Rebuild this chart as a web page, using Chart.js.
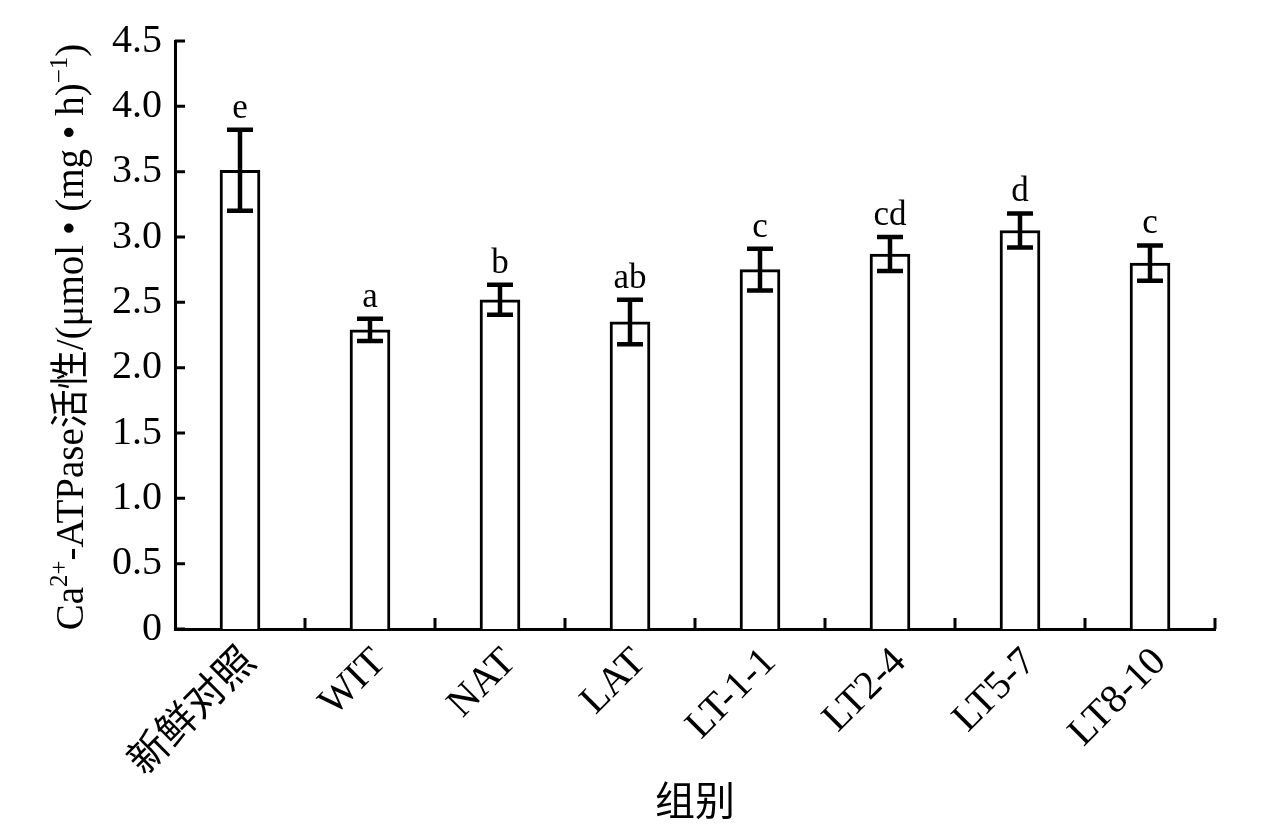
<!DOCTYPE html>
<html>
<head>
<meta charset="utf-8">
<script src="https://cdn.jsdelivr.net/npm/chart.js@4.4.1/dist/chart.umd.min.js"></script>
<style>
  html, body { margin: 0; padding: 0; background: #fff; }
  #wrap { width: 1276px; height: 831px; }
</style>
</head>
<body>
<div id="wrap"><canvas id="chart" width="1276" height="831"></canvas></div>
<script>
// values
var groups = ['新鲜对照', 'WIT', 'NAT', 'LAT', 'LT-1-1', 'LT2-4', 'LT5-7', 'LT8-10'];
var means = [3.51, 2.29, 2.52, 2.35, 2.75, 2.87, 3.05, 2.80];
var errors = [0.31, 0.085, 0.115, 0.17, 0.16, 0.13, 0.13, 0.135];
var letters = ['e', 'a', 'b', 'ab', 'c', 'cd', 'd', 'c'];
var yTickLabels = ['0', '0.5', '1.0', '1.5', '2.0', '2.5', '3.0', '3.5', '4.0', '4.5'];
// [text, isSuperscript]
var yTitleParts = [['Ca', 0], ['2+', 1], ['-ATPase活性/(μmol • (mg • h)', 0], ['−1', 1], [')', 0]];
var xTitle = '组别';

var FONT = '"Liberation Serif", "Times New Roman", "Noto Sans CJK SC", serif';

// error bars, letters, inward ticks and the y title with superscripts
var extras = {
  id: 'extras',
  afterDatasetsDraw: function (chart) {
    var ctx = chart.ctx;
    var xs = chart.scales.x, ys = chart.scales.y;
    var area = chart.chartArea;
    var meta = chart.getDatasetMeta(0);
    ctx.save();
    ctx.strokeStyle = '#000';
    ctx.fillStyle = '#000';
    ctx.lineWidth = 4.5;
    meta.data.forEach(function (bar, i) {
      var x = bar.x;
      var yT = ys.getPixelForValue(means[i] + errors[i]);
      var yB = ys.getPixelForValue(means[i] - errors[i]);
      ctx.beginPath();
      ctx.moveTo(x, yT); ctx.lineTo(x, yB);
      ctx.moveTo(x - 13, yT); ctx.lineTo(x + 13, yT);
      ctx.moveTo(x - 13, yB); ctx.lineTo(x + 13, yB);
      ctx.stroke();
      ctx.font = '35px ' + FONT;
      ctx.textAlign = 'center';
      ctx.textBaseline = 'alphabetic';
      ctx.fillText(letters[i], x, yT - 12);
    });

    // inward tick marks
    ctx.lineWidth = 3;
    ctx.beginPath();
    ys.ticks.forEach(function (t, i) {
      var py = ys.getPixelForTick(i);
      ctx.moveTo(area.left, py); ctx.lineTo(area.left + 10, py);
    });
    for (var k = 1; k <= groups.length; k++) {
      var px = xs.getPixelForValue(k - 0.5);
      ctx.moveTo(px, area.bottom); ctx.lineTo(px, area.bottom - 11);
    }
    ctx.stroke();

    // y axis title
    var main = '39px ' + FONT, sup = '25px ' + FONT;
    var total = 0;
    yTitleParts.forEach(function (p) {
      ctx.font = p[1] ? sup : main;
      total += ctx.measureText(p[0]).width;
    });
    ctx.translate(83, (area.top + area.bottom) / 2 + 2);
    ctx.rotate(-Math.PI / 2);
    ctx.textAlign = 'left';
    var cx = -total / 2;
    yTitleParts.forEach(function (p) {
      ctx.font = p[1] ? sup : main;
      ctx.fillText(p[0], cx, p[1] ? -16 : 0);
      cx += ctx.measureText(p[0]).width;
    });
    ctx.restore();
  }
};

new Chart(document.getElementById('chart').getContext('2d'), {
  type: 'bar',
  data: {
    labels: groups,
    datasets: [{
      data: means,
      backgroundColor: '#fff',
      borderColor: '#000',
      borderWidth: 3,
      barThickness: 40
    }]
  },
  options: {
    responsive: false,
    animation: false,
    devicePixelRatio: 1,
    layout: { padding: { top: 41, right: 61, left: 0, bottom: 0 } },
    plugins: { legend: { display: false }, tooltip: { enabled: false } },
    scales: {
      x: {
        grid: { display: false },
        border: { display: true, color: '#000', width: 3 },
        ticks: {
          color: '#000',
          font: { family: FONT, size: 40, lineHeight: 1.2 },
          minRotation: 45, maxRotation: 45, autoSkip: false,
          padding: 2, labelOffset: 10
        },
        title: {
          display: true, text: xTitle, color: '#000',
          font: { family: FONT, size: 40, lineHeight: 1.2 },
          padding: { top: 0, bottom: 3 }
        },
        afterFit: function (s) { s.height = 202; }
      },
      y: {
        min: 0, max: 4.5,
        grid: { display: false },
        border: { display: true, color: '#000', width: 3 },
        ticks: {
          stepSize: 0.5, color: '#000', padding: 5,
          font: { family: FONT, size: 40 },
          callback: function (v, i) { return yTickLabels[i]; }
        },
        afterFit: function (s) { s.width = 175; }
      }
    }
  },
  plugins: [extras]
});
</script>
</body>
</html>
